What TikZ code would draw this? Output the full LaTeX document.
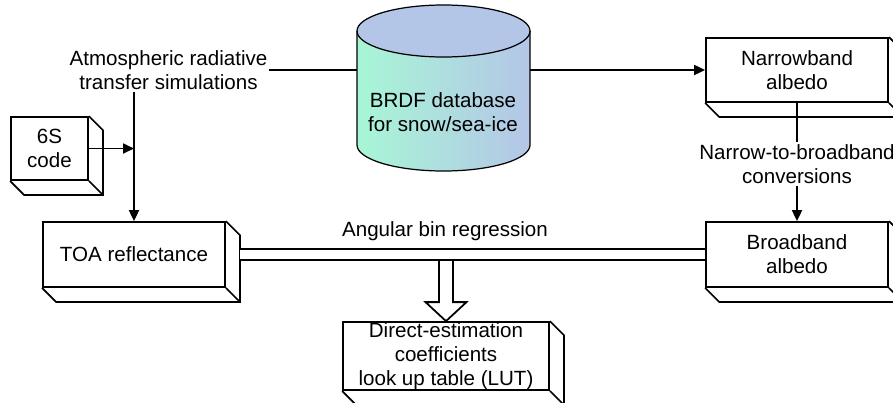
\documentclass[tikz,border=0pt]{standalone}
\usepackage{fontspec}
\setmainfont{Liberation Sans}
\usetikzlibrary{positioning}
\usetikzlibrary{arrows.meta, calc}

\definecolor{dbtop}{RGB}{180,198,231}
\definecolor{dbleft}{RGB}{168,246,214}

% the sloped side and bottom face of a box
\newcommand{\slabdepth}[1]{%
\draw[line width=1pt] (#1.north east) -- ++(0.28,-0.28) -- ([shift={(0.28,-0.28)}]#1.south east) -- ([shift={(0.28,-0.28)}]#1.south west) -- (#1.south west);
\draw[line width=1pt] (#1.south east) -- ++(0.28,-0.28);}

\begin{document}
\begin{tikzpicture}[font=\fontsize{11.7}{13.6}\selectfont]
\useasboundingbox (0,0) rectangle (17.86,8.04);
\tikzset{
slab/.style={draw,line width=1pt,fill=white,align=center,inner sep=0pt},
lbl/.style={align=center,inner sep=1pt},
link/.style={line width=1pt},
flow/.style={-{Triangle[length=2.2mm,width=2mm]}}
}

% database cylinder
\shade[left color=dbleft,right color=dbtop] (7.14,7.42) -- (7.14,5.14) arc[start angle=180,end angle=360,x radius=1.73,y radius=0.52] -- (10.60,7.42) -- cycle;
\draw[line width=0.7pt,fill=dbtop] (8.87,7.42) ellipse[x radius=1.73,y radius=0.52];
\draw[line width=0.7pt] (7.14,7.42) -- (7.14,5.14) arc[start angle=180,end angle=360,x radius=1.73,y radius=0.52] -- (10.60,7.42);
\node[lbl] (db) at (8.86,5.80) {BRDF database\\for snow/sea-ice};
\coordinate (dbin) at (7.14,6.64);
\coordinate (dbout) at (10.60,6.64);

% boxes
\node[slab,minimum width=1.54cm,minimum height=1.26cm] (code) at (0.99,5.07) {6S\\code};
\node[slab,minimum width=3.64cm,minimum height=1.30cm] (toa) at (2.68,2.95) {TOA reflectance};
\node[slab,minimum width=3.64cm,minimum height=1.28cm] (narrow) at (15.94,6.64) {Narrowband\\albedo};
\node[slab,minimum width=3.64cm,minimum height=1.30cm] (broad) at (15.94,2.95) {Broadband\\albedo};
\node[slab,minimum width=4.12cm,minimum height=1.36cm] (lut) at (8.92,0.92) {Direct-estimation\\coefficients\\look up table (LUT)};
\slabdepth{code}
\slabdepth{toa}
\slabdepth{narrow}
\slabdepth{broad}
\slabdepth{lut}

% labels
\node[lbl] (atm) at (3.37,6.64) {Atmospheric radiative\\transfer simulations};
\node[lbl] (conv) at (15.94,4.76) {Narrow-to-broadband\\conversions};
\node[lbl] (reg) at (8.90,3.42) {Angular bin regression};

% connectors
\draw[link] (atm.east) -- (dbin);
\draw[link,flow] (dbout) -- (narrow.west);
\draw[link,flow] (atm.south -| toa.north) -- (toa.north);
\draw[link,flow] (code.east) -- (code.east -| toa.north);
\draw[link] (narrow.south) -- (conv.north);
\draw[link,flow] (conv.south) -- (broad.north);

\coordinate (regfoot) at (lut.north |- broad.west);
\draw[link,fill=white] ([shift={(-0.14,-0.11)}]regfoot) -- ([shift={(-0.14,0.38)}]lut.north) -- ([shift={(-0.41,0.38)}]lut.north) -- (lut.north) -- ([shift={(0.41,0.38)}]lut.north) -- ([shift={(0.14,0.38)}]lut.north) -- ([shift={(0.14,-0.11)}]regfoot);
\draw[link,double,double distance=0.19cm] ([xshift=0.28cm]toa.east) -- (broad.west);

\end{tikzpicture}
\end{document}
